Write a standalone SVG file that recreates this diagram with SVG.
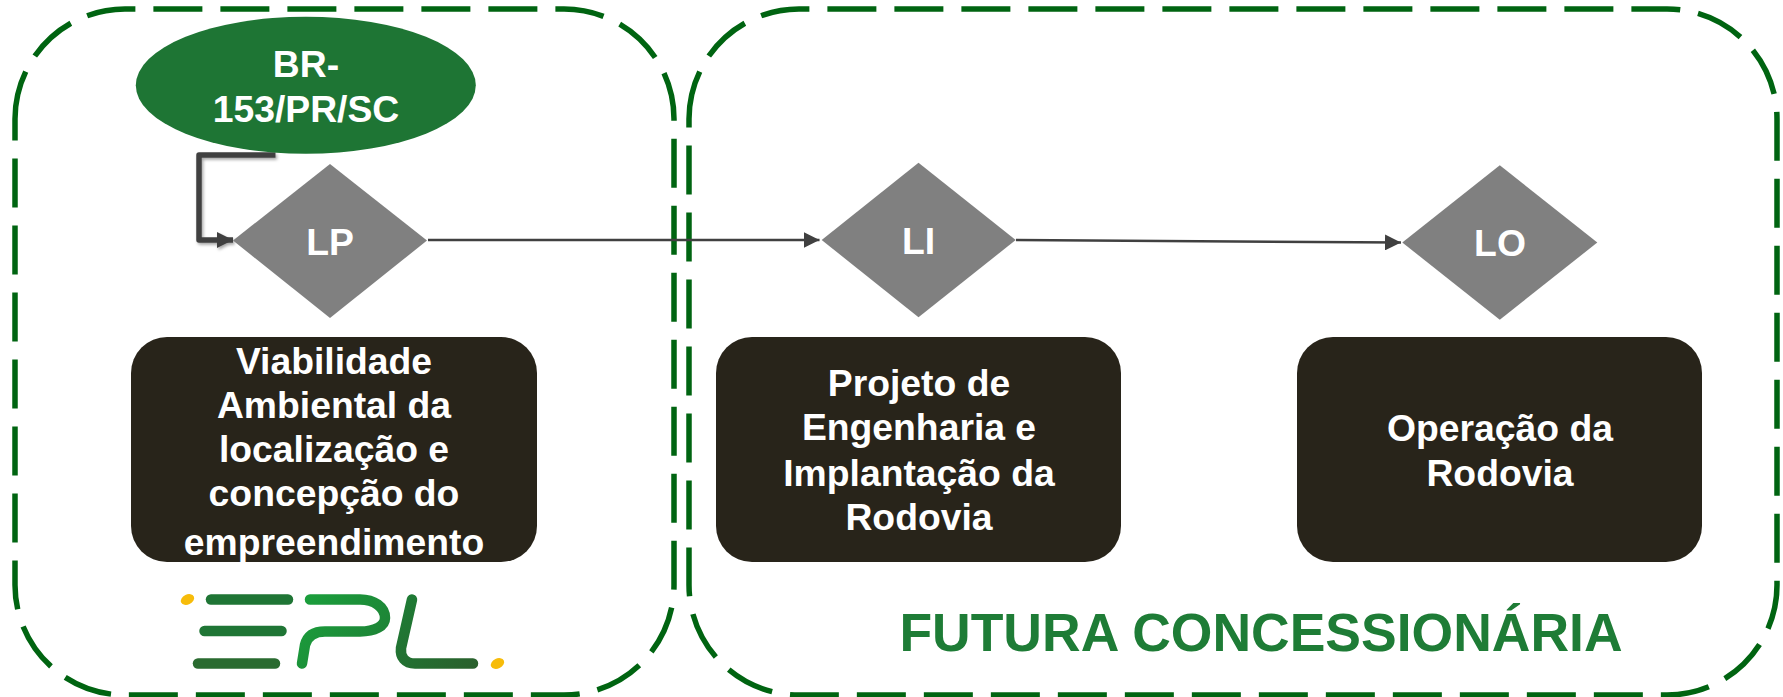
<svg xmlns="http://www.w3.org/2000/svg" width="1783" height="697" viewBox="0 0 1783 697">
<style>
text{font-family:"Liberation Sans",Arial,sans-serif;font-weight:700;text-anchor:middle;fill:#fff;font-size:37.3px}
.zone{fill:none;stroke:#006411;stroke-width:5.500;stroke-dasharray:49 18}
.dia{fill:#808080}
.box{fill:#28241a}
.c{fill:none;stroke:#404040}
.lg{fill:none;stroke-width:10.5;stroke-linecap:round;stroke-linejoin:round}
</style>
<defs>
<marker id="ah" markerUnits="userSpaceOnUse" markerWidth="17" markerHeight="16" refX="16" refY="8" orient="auto"><path d="M0 0L16 8L0 16Z" fill="#404040"/></marker>
<filter id="sh" x="-20%" y="-20%" width="140%" height="140%"><feDropShadow dx="1.500" dy="2" stdDeviation="1.500" flood-color="#000" flood-opacity=".35"/></filter>
<linearGradient id="lp" gradientUnits="userSpaceOnUse" x1="305" y1="600" x2="400" y2="670"><stop offset="0" stop-color="#1b9e3c"/><stop offset="1" stop-color="#1e7a34"/></linearGradient>
<linearGradient id="ll" gradientUnits="userSpaceOnUse" x1="400" y1="600" x2="480" y2="665"><stop offset="0" stop-color="#1e7c35"/><stop offset="1" stop-color="#2a5f2c"/></linearGradient>
</defs>
<g id="zone-epl"><path class="zone" d="M15 119A110 110 0 0 1 125 9H564A110 110 0 0 1 674 119V585A110 110 0 0 1 564 695H125A110 110 0 0 1 15 585Z"/></g>
<g id="zone-concessionaria"><path class="zone" d="M689 119A110 110 0 0 1 799 9H1667A110 110 0 0 1 1777 119V585A110 110 0 0 1 1667 695H799A110 110 0 0 1 689 585Z"/></g>
<g id="connectors">
<path class="c" stroke-width="5.500" stroke-linejoin="round" filter="url(#sh)" d="M275.500 155H199V240H233" marker-end="url(#ah)"/>
<path class="c" stroke-width="2.500" d="M428 240H819.500" marker-end="url(#ah)"/>
<path class="c" stroke-width="2.500" d="M1016 240L1401 242.500" marker-end="url(#ah)"/>
</g>
<g id="node-br"><ellipse cx="305.800" cy="85.300" rx="170" ry="68.500" fill="#1e7534"/><text x="306" y="77">BR-</text><text x="306" y="122">153/PR/SC</text></g>
<g id="node-lp"><path class="dia" d="M330 164L427 240.500L330 318L233 240.500Z"/><text x="330" y="255">LP</text></g>
<g id="node-li"><path class="dia" d="M918.500 162.700L1015.700 240L918.500 317.300L821.700 240Z"/><text x="918.500" y="254">LI</text></g>
<g id="node-lo"><path class="dia" d="M1499.800 165.300L1597.300 242.500L1499.800 319.700L1402.300 242.500Z"/><text x="1500" y="256">LO</text></g>
<g id="box-viabilidade"><rect class="box" x="131" y="337" width="406" height="225" rx="36"/>
<text x="334" y="374">Viabilidade</text><text x="334" y="418">Ambiental da</text><text x="334" y="462">localização e</text><text x="334" y="506">concepção do</text><text x="334" y="555">empreendimento</text></g>
<g id="box-projeto"><rect class="box" x="716" y="337" width="405" height="225" rx="36"/>
<text x="919" y="396">Projeto de</text><text x="919" y="440">Engenharia e</text><text x="919" y="486">Implantação da</text><text x="919" y="530">Rodovia</text></g>
<g id="box-operacao"><rect class="box" x="1297" y="337" width="405" height="225" rx="36"/>
<text x="1500" y="441">Operação da</text><text x="1500" y="486">Rodovia</text></g>
<g id="logo-epl">
<ellipse cx="187.500" cy="599.500" rx="7" ry="5" fill="#f7bc0a" transform="rotate(-25 187.500 599.500)"/>
<path class="lg" stroke="#1f7535" d="M211 599.500H288"/>
<path class="lg" stroke="#1f7535" d="M204.500 631H281.500"/>
<path class="lg" stroke="#2a6b30" d="M198 663.500H275"/>
<path class="lg" stroke="url(#lp)" d="M310 599.500H360C374 599.500 385 607 385 618C385 626 375 631.500 360 631.500H325C313 631.500 307 637 305 645L302 663.500"/>
<path class="lg" stroke="url(#ll)" d="M412 599.500L401 648C400 657 405 663.500 415 663.500H473"/>
<ellipse cx="497.500" cy="663.500" rx="7" ry="5" fill="#f7bc0a" transform="rotate(-25 497.500 663.500)"/>
</g>
<text x="1261" y="651" style="fill:#1e7c36;font-size:53.500px">FUTURA CONCESSIONÁRIA</text>
</svg>
